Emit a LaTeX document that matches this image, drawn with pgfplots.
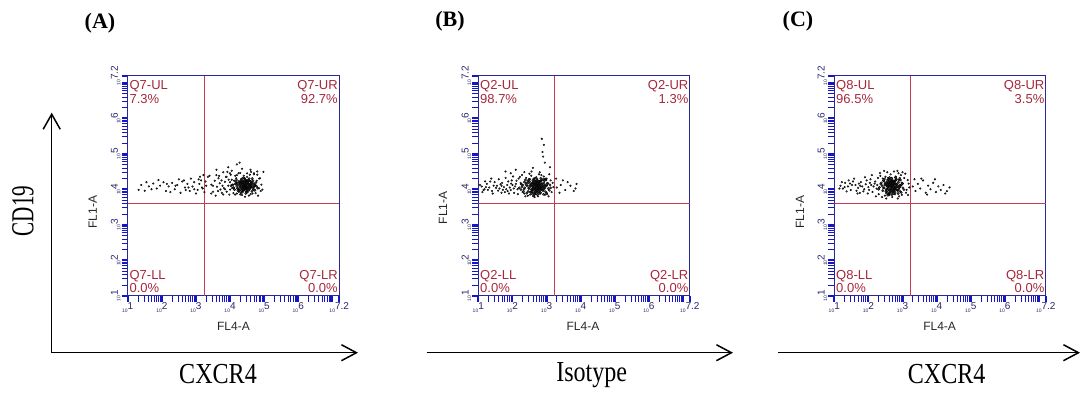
\documentclass[border=0pt]{standalone}
\usepackage{pgfplots}
\pgfplotsset{compat=1.18}
\usetikzlibrary{arrows.meta}
\usepackage{fontspec}
\setmainfont{Liberation Serif}
\setsansfont{Liberation Sans}
\definecolor{framecol}{RGB}{40,40,150}
\definecolor{tickcol}{RGB}{20,20,200}
\definecolor{labcol}{RGB}{40,40,110}
\definecolor{qcol}{RGB}{165,40,60}
\definecolor{qline}{RGB}{195,60,80}
\newcommand{\tl}[1]{\sffamily{\fontsize{5}{5}\selectfont 10}\raisebox{2.5pt}{\fontsize{10}{10}\selectfont #1}}
\tikzset{
  qlab/.style={text=qcol, font=\sffamily\fontsize{13}{13.6}\selectfont, inner sep=0pt},
  fl/.style={font=\sffamily\fontsize{12}{12}\selectfont, text=black!85},
}
\pgfplotsset{fcs/.style={
  scale only axis, width=211.5pt, height=220pt,
  xmin=1, xmax=7.2, ymin=1, ymax=7.2,
  clip mode=individual,
  axis line style={draw=framecol, line width=0.9pt},
  tick align=outside, xtick pos=bottom, ytick pos=left,
  xtick={1,2,3,4,5,6,7,7.2}, ytick={1,2,3,4,5,6,7,7.2},
  xticklabels={\tl{1},\tl{2},\tl{3},\tl{4},\tl{5},\tl{6},{},\tl{7.2}},
  yticklabels={\tl{1},\tl{2},\tl{3},\tl{4},\tl{5},\tl{6},{},\tl{7.2}},
  minor xtick={1.301,1.477,1.602,1.699,1.778,1.845,1.903,1.954,2.301,2.477,2.602,2.699,2.778,2.845,2.903,2.954,3.301,3.477,3.602,3.699,3.778,3.845,3.903,3.954,4.301,4.477,4.602,4.699,4.778,4.845,4.903,4.954,5.301,5.477,5.602,5.699,5.778,5.845,5.903,5.954,6.301,6.477,6.602,6.699,6.778,6.845,6.903,6.954},
  minor ytick={1.301,1.477,1.602,1.699,1.778,1.845,1.903,1.954,2.301,2.477,2.602,2.699,2.778,2.845,2.903,2.954,3.301,3.477,3.602,3.699,3.778,3.845,3.903,3.954,4.301,4.477,4.602,4.699,4.778,4.845,4.903,4.954,5.301,5.477,5.602,5.699,5.778,5.845,5.903,5.954,6.301,6.477,6.602,6.699,6.778,6.845,6.903,6.954},
  major tick length=6pt, minor tick length=6pt,
  major tick style={draw=tickcol, line width=2pt},
  minor tick style={draw=tickcol, line width=0.7pt},
  xticklabel style={anchor=north, text=labcol, inner sep=1pt},
  yticklabel style={rotate=90, anchor=south, text=labcol, inner sep=1pt},
  sparse/.style={only marks, mark=*, mark size=0.85pt, mark options={draw=none, fill=black!50}},
  core/.style={only marks, mark=*, mark size=1.15pt, mark options={draw=none, fill=black!85, fill opacity=0.75}},
  gate/.style={draw=qline, line width=0.9pt, no marks},
}}
\begin{document}
\begin{tikzpicture}[x=1pt, y=-1pt]
\useasboundingbox (0,0) rectangle (1081,394);
% ---------- Panel A ----------
\begin{axis}[fcs, at={(127.7pt,-295.7pt)}, anchor=south west]
\addplot[gate] coordinates {(3.24,1) (3.24,7.2)};
\addplot[gate] coordinates {(1,3.61) (7.2,3.61)};
\addplot[sparse] coordinates {
(3.95,4.10) (4.05,4.27) (3.82,4.03) (3.70,4.17) (4.10,3.89) (3.88,4.35) (4.00,3.99) (3.76,3.90) (4.15,4.38) (3.62,4.07)
(4.78,4.24) (4.85,4.03) (4.80,4.41) (4.92,4.13) (4.75,3.89) (4.88,4.31) (4.98,4.49) (4.70,4.45) (4.95,3.99) (4.82,3.82)
(4.58,4.41) (4.40,4.38) (4.25,4.45) (4.62,4.49) (4.50,4.35) (4.30,3.85) (4.55,3.82) (4.20,3.88) (4.66,3.88) (4.44,3.79)
(3.55,4.24) (3.50,3.93) (3.45,4.13) (3.40,4.38) (3.58,3.82) (3.66,4.31) (3.92,4.49) (4.08,4.13) (3.98,3.85) (3.85,4.21)
(4.12,4.24) (3.78,4.10) (4.02,4.41) (3.72,3.99) (4.18,4.31) (3.90,3.93) (4.06,4.03) (3.68,4.38) (3.80,3.85) (3.96,4.27)
(4.00,4.20) (4.10,4.05) (4.20,4.40) (4.35,3.84) (4.60,3.86) (4.75,4.10) (4.85,4.30) (4.90,3.95) (3.85,4.00) (3.75,4.25)
(3.65,3.95) (3.90,4.35) (4.15,3.85) (4.70,4.42) (4.50,4.45) (4.30,4.46) (4.00,4.45) (3.60,4.40) (3.50,4.10) (3.45,3.88)
(3.30,4.10) (3.20,4.02) (3.15,4.25) (3.25,3.92) (3.10,4.15) (3.05,3.98) (2.95,4.20) (2.90,4.08) (2.82,3.95) (2.75,4.15)
(2.68,4.05) (2.60,4.22) (2.55,3.90) (2.45,4.12) (2.38,4.00) (2.30,4.18) (2.20,4.08) (2.12,3.95) (2.05,4.20) (1.95,4.10)
(1.85,4.02) (1.75,4.16) (1.62,4.08) (1.50,3.96) (1.40,4.12) (1.32,3.98) (2.50,4.28) (2.85,4.30) (3.35,4.35) (3.00,3.88)
(2.25,3.92) (1.90,4.26) (3.18,4.05) (2.70,3.98) (3.28,4.22) (3.22,4.40) (3.12,4.35)
(2.95,4.00) (2.65,4.25) (2.40,4.10) (2.15,4.15) (1.70,4.00) (1.55,4.20) (3.08,4.28) (2.78,4.05)
(3.60,4.55) (3.95,4.62) (4.20,4.70) (4.05,4.52) (4.35,4.58) (4.60,4.55) (4.80,4.50) (3.80,4.48) (4.28,4.75)
};
\addplot[core] coordinates {
(4.42,4.08) (4.37,4.13) (4.49,4.03) (4.54,4.15) (4.30,3.99) (4.25,4.12) (4.60,4.06) (4.39,4.21) (4.47,3.94) (4.34,4.04)
(4.65,4.17) (4.20,4.08) (4.45,4.26) (4.55,3.97) (4.28,4.19) (4.51,4.10) (4.38,3.95) (4.69,4.04) (4.15,4.15) (4.59,4.22)
(4.33,4.28) (4.43,4.01) (4.63,4.12) (4.23,3.97) (4.50,4.19) (4.41,4.15) (4.32,4.10) (4.73,4.13) (4.46,3.88) (4.56,4.30)
(4.36,3.92) (4.26,4.22) (4.52,4.04) (4.68,3.99) (4.11,4.04) (4.45,4.13) (4.39,4.04) (4.62,4.17) (4.29,4.06) (4.49,4.24)
(4.78,4.08) (4.17,4.21) (4.34,4.17) (4.58,4.01) (4.42,4.31) (4.24,4.01) (4.67,4.24) (4.51,3.92) (4.38,4.24) (4.47,4.08)
(4.07,4.12) (4.76,4.19) (4.30,4.15) (4.55,4.12) (4.41,3.99) (4.64,3.94) (4.21,4.17) (4.45,4.21) (4.36,4.01) (4.59,4.15)
(4.13,3.99) (4.71,4.10) (4.50,3.99) (4.33,4.22) (4.43,4.10) (4.54,4.26) (4.26,3.94) (4.62,4.06) (4.39,4.10) (4.47,4.15)
(4.81,4.03) (4.03,4.10) (4.37,4.31) (4.65,4.30) (4.32,3.90) (4.52,4.21) (4.46,4.03) (4.19,4.26) (4.73,3.97) (4.41,4.19)
(4.40,4.10) (4.48,4.08) (4.44,4.02) (4.36,4.14) (4.52,4.18) (4.30,4.08) (4.58,4.04) (4.46,4.24) (4.34,3.96) (4.62,4.12)
(4.42,4.16) (4.50,4.00) (4.38,4.06) (4.56,4.10) (4.28,4.18) (4.44,4.28) (4.66,4.06) (4.22,4.02) (4.54,4.26) (4.40,3.98)
(4.70,4.16) (4.18,4.14) (4.48,3.92) (4.60,4.22) (4.32,4.24) (4.74,4.10) (4.26,3.94) (4.52,4.06) (4.36,4.20) (4.46,4.14)
};
\node[qlab, anchor=north west, align=left] at (axis description cs:0.008,0.979) {Q7-UL\\7.3\%};
\node[qlab, anchor=north east, align=right] at (axis description cs:0.994,0.979) {Q7-UR\\92.7\%};
\node[qlab, anchor=south west, align=left] at (axis description cs:0.008,0.011) {Q7-LL\\0.0\%};
\node[qlab, anchor=south east, align=right] at (axis description cs:0.994,0.011) {Q7-LR\\0.0\%};
\node[fl] at (axis description cs:0.5,-0.141) {FL4-A};
\node[fl, rotate=90] at (axis description cs:-0.165,0.38) {FL1-A};
\end{axis}
% ---------- Panel B ----------
\begin{axis}[fcs, at={(478.3pt,-295.7pt)}, anchor=south west]
\addplot[gate] coordinates {(3.24,1) (3.24,7.2)};
\addplot[gate] coordinates {(1,3.61) (7.2,3.61)};
\addplot[sparse] coordinates {
(1.10,4.08) (1.18,4.00) (1.25,4.15) (1.32,4.05) (1.40,3.95) (1.48,4.20) (1.55,4.10) (1.62,4.02) (1.70,4.18) (1.78,3.92)
(1.85,4.12) (1.92,4.05) (1.98,4.25) (2.05,3.90) (2.10,4.15) (2.15,4.00) (2.18,4.30) (2.08,4.08) (1.95,3.98) (1.88,4.22)
(1.75,4.06) (1.65,4.14) (1.58,3.96) (1.45,4.10) (1.35,4.22) (1.22,4.06) (1.15,3.98) (2.00,4.12) (1.82,4.00) (1.68,3.90)
(2.22,4.35) (2.40,4.32) (2.55,4.38) (2.70,4.34) (2.85,4.40) (2.62,4.30) (2.48,4.28) (3.00,4.30) (3.12,4.25) (2.92,4.36)
(2.35,3.88) (2.52,3.85) (2.68,3.86) (2.82,3.88) (3.02,3.86) (3.15,3.92) (2.95,3.84) (2.45,3.82) (2.75,3.80) (3.18,4.18)
(1.05,4.12) (1.12,3.92) (1.20,4.22) (1.28,3.98) (1.38,4.30) (1.42,3.88) (1.52,4.04) (1.60,4.28) (1.68,4.10) (1.72,3.98)
(1.80,4.32) (1.90,3.88) (1.96,4.16) (2.04,4.02) (2.12,4.24) (2.16,3.86) (2.24,4.18) (2.30,3.92) (2.02,4.36) (1.86,3.95)
(2.28,4.40) (2.50,4.44) (2.78,4.42) (2.65,3.78) (2.38,3.80) (3.06,3.80) (3.20,4.06) (3.08,4.42) (2.56,4.50) (2.80,4.48)
(1.80,4.50) (2.10,4.55) (1.95,4.45) (2.35,4.48) (2.90,4.92) (2.88,5.05) (2.92,5.25) (2.86,5.42) (2.95,4.75) (3.10,4.62) (2.60,4.60)
(3.30,4.05) (3.42,4.12) (3.55,3.98) (3.70,4.10) (3.85,4.02) (3.38,3.90) (3.62,4.20) (3.48,4.25) (3.80,3.95) (3.28,4.30) (3.88,4.15)
};
\addplot[core] coordinates {
(2.72,4.07) (2.65,4.12) (2.80,4.02) (2.58,3.99) (2.88,4.15) (2.70,4.18) (2.76,3.94) (2.62,4.05) (2.84,4.09) (2.68,3.97)
(2.95,4.04) (2.52,4.10) (2.74,4.25) (2.82,3.91) (2.60,4.20) (2.78,4.12) (2.66,3.89) (2.92,4.18) (2.48,4.02) (2.86,4.26)
(2.63,4.26) (2.71,4.01) (2.90,3.96) (2.55,3.93) (2.79,4.21) (2.69,4.12) (2.61,4.15) (3.00,4.10) (2.73,3.85) (2.83,4.31)
(2.64,3.85) (2.57,4.17) (2.81,4.05) (2.97,3.93) (2.44,4.09) (2.75,4.15) (2.67,4.05) (2.89,4.10) (2.59,4.07) (2.77,4.20)
(3.05,4.02) (2.50,4.21) (2.63,4.18) (2.85,3.99) (2.72,4.29) (2.56,3.99) (2.94,4.25) (2.78,3.88) (2.66,4.23) (2.74,4.07)
(2.40,4.13) (3.02,4.17) (2.62,4.10) (2.80,4.13) (2.69,3.94) (2.91,3.86) (2.53,4.15) (2.73,4.21) (2.65,3.97) (2.87,4.05)
(2.46,3.94) (2.98,4.09) (2.79,3.96) (2.60,4.25) (2.71,4.09) (2.84,4.23) (2.57,3.88) (2.93,4.01) (2.68,4.15) (2.76,4.12)
(3.08,3.97) (2.36,4.04) (2.66,4.31) (2.96,4.29) (2.61,3.81) (2.82,4.18) (2.75,4.01) (2.51,4.28) (3.00,3.89) (2.70,4.23)
(2.30,4.12) (2.25,3.99) (2.35,4.20) (2.42,3.89) (2.28,4.07) (2.38,4.26) (2.32,3.94) (2.45,4.17) (2.20,4.04) (3.10,4.12)
(2.70,4.10) (2.78,4.06) (2.62,4.02) (2.86,4.14) (2.55,4.12) (2.92,4.06) (2.68,4.20) (2.75,3.98) (2.82,4.24) (2.58,3.94)
(2.96,4.12) (2.50,4.04) (2.66,4.14) (2.88,3.98) (2.74,4.16) (2.40,4.18) (3.04,4.16) (2.34,4.00) (2.64,3.90) (2.80,4.00)
(2.46,4.24) (2.98,4.26) (2.72,3.92) (2.60,4.08) (2.84,4.04) (2.26,4.14) (3.12,4.04) (2.52,3.92) (2.90,4.28) (2.70,4.04)
};
\node[qlab, anchor=north west, align=left] at (axis description cs:0.008,0.979) {Q2-UL\\98.7\%};
\node[qlab, anchor=north east, align=right] at (axis description cs:0.994,0.979) {Q2-UR\\1.3\%};
\node[qlab, anchor=south west, align=left] at (axis description cs:0.008,0.011) {Q2-LL\\0.0\%};
\node[qlab, anchor=south east, align=right] at (axis description cs:0.994,0.011) {Q2-LR\\0.0\%};
\node[fl] at (axis description cs:0.495,-0.141) {FL4-A};
\node[fl, rotate=90] at (axis description cs:-0.167,0.40) {FL1-A};
\end{axis}
% ---------- Panel C ----------
\begin{axis}[fcs, at={(834.3pt,-295.7pt)}, anchor=south west]
\addplot[gate] coordinates {(3.24,1) (3.24,7.2)};
\addplot[gate] coordinates {(1,3.61) (7.2,3.61)};
\addplot[sparse] coordinates {
(1.18,4.10) (1.25,4.02) (1.32,4.18) (1.40,4.08) (1.48,3.98) (1.55,4.22) (1.62,4.12) (1.70,4.04) (1.78,4.20) (1.85,3.94)
(1.92,4.14) (2.00,4.06) (2.06,4.28) (2.12,3.92) (2.18,4.16) (2.24,4.02) (2.28,4.32) (2.15,4.08) (2.02,3.98) (1.95,4.25)
(1.82,4.08) (1.72,4.16) (1.65,3.96) (1.52,4.12) (1.42,4.25) (1.30,4.06) (2.08,4.12) (1.88,4.00) (1.75,3.90) (2.20,4.22)
(2.35,4.38) (2.50,4.35) (2.65,4.42) (2.80,4.36) (2.95,4.40) (2.58,4.32) (2.42,4.30) (3.05,4.32) (3.15,4.26) (2.88,4.45)
(2.30,3.86) (2.48,3.82) (2.62,3.84) (2.78,3.86) (2.98,3.84) (3.10,3.90) (2.90,3.80) (2.40,3.78) (2.70,3.78) (3.18,4.16)
(2.75,4.50) (2.55,4.48) (3.00,4.48) (3.20,4.05) (3.12,3.98)
(1.15,4.02) (1.22,4.20) (1.36,3.94) (1.46,4.16) (1.58,4.30) (1.68,3.88) (1.76,4.10) (1.90,4.34) (1.98,3.88) (2.10,4.40)
(2.22,3.80) (2.26,4.12) (2.34,4.46) (2.46,4.52) (2.85,4.52) (3.08,4.44) (3.16,3.84) (2.52,3.74) (2.86,3.74) (2.04,4.18)
(3.30,4.08) (3.38,3.95) (3.45,4.15) (3.52,4.02) (3.60,4.25) (3.68,3.90) (3.75,4.10) (3.82,4.00) (3.90,4.18) (3.98,3.92)
(4.05,4.08) (4.12,3.98) (4.20,4.12) (4.30,3.95) (4.38,4.05) (3.55,4.30) (3.95,4.28) (4.25,3.88) (3.35,4.28) (3.72,3.85)
};
\addplot[core] coordinates {
(2.68,4.07) (2.61,4.13) (2.76,4.02) (2.54,4.01) (2.84,4.15) (2.66,4.20) (2.72,3.94) (2.58,4.07) (2.80,4.10) (2.64,3.97)
(2.91,4.05) (2.48,4.12) (2.70,4.26) (2.78,3.91) (2.56,4.21) (2.74,4.13) (2.62,3.89) (2.88,4.20) (2.44,4.04) (2.82,4.28)
(2.59,4.28) (2.67,4.01) (2.86,3.96) (2.51,3.94) (2.75,4.23) (2.65,4.12) (2.57,4.17) (2.96,4.12) (2.69,3.85) (2.79,4.33)
(2.60,3.86) (2.53,4.18) (2.77,4.05) (2.93,3.94) (2.40,4.10) (2.71,4.17) (2.63,4.05) (2.85,4.10) (2.55,4.09) (2.73,4.21)
(3.01,4.04) (2.46,4.23) (2.59,4.20) (2.81,3.99) (2.68,4.31) (2.52,3.99) (2.90,4.26) (2.74,3.88) (2.62,4.25) (2.70,4.09)
(2.36,4.15) (2.98,4.18) (2.58,4.12) (2.76,4.15) (2.65,3.94) (2.87,3.88) (2.49,4.17) (2.69,4.23) (2.61,3.97) (2.83,4.07)
(2.42,3.96) (2.94,4.10) (2.75,3.96) (2.56,4.26) (2.67,4.10) (2.80,4.25) (2.53,3.89) (2.89,4.01) (2.64,4.15) (2.72,4.12)
(3.04,3.99) (2.32,4.05) (2.62,4.33) (2.92,4.31) (2.57,3.83) (2.78,4.18) (2.71,4.02) (2.47,4.29) (2.96,3.91) (2.66,4.25)
(2.66,4.10) (2.74,4.06) (2.58,4.02) (2.82,4.14) (2.51,4.12) (2.88,4.06) (2.64,4.20) (2.71,3.98) (2.78,4.24) (2.54,3.94)
(2.92,4.12) (2.46,4.04) (2.62,4.14) (2.84,3.98) (2.70,4.16) (2.38,4.18) (3.00,4.16) (2.30,4.00) (2.60,3.90) (2.76,4.00)
(2.44,4.24) (2.94,4.26) (2.68,3.92) (2.56,4.08) (2.80,4.04) (2.72,4.12)
};
\node[qlab, anchor=north west, align=left] at (axis description cs:0.008,0.979) {Q8-UL\\96.5\%};
\node[qlab, anchor=north east, align=right] at (axis description cs:0.994,0.979) {Q8-UR\\3.5\%};
\node[qlab, anchor=south west, align=left] at (axis description cs:0.008,0.011) {Q8-LL\\0.0\%};
\node[qlab, anchor=south east, align=right] at (axis description cs:0.994,0.011) {Q8-LR\\0.0\%};
\node[fl] at (axis description cs:0.498,-0.141) {FL4-A};
\node[fl, rotate=90] at (axis description cs:-0.162,0.38) {FL1-A};
\end{axis}
% ---------- outer annotations ----------
\node[font=\bfseries\fontsize{22}{22}\selectfont, anchor=base] at (100,28) {(A)};
\node[font=\bfseries\fontsize{22}{22}\selectfont, anchor=base] at (450,26) {(B)};
\node[font=\bfseries\fontsize{22}{22}\selectfont, anchor=base] at (798,26) {(C)};
\node[rotate=90, font=\fontsize{32}{32}\selectfont] at (23,211) {\scalebox{0.66}[1]{CD19}};
\draw[line width=1.5pt, line join=miter, {Straight Barb[length=15pt,width=17pt]}-{Straight Barb[length=15pt,width=16pt]}]
  (51.7,112.7) -- (51.7,352.7) -- (358,352.7);
\draw[line width=1.5pt, -{Straight Barb[length=15pt,width=16pt]}] (426.7,352.7) -- (733,352.7);
\draw[line width=1.5pt, -{Straight Barb[length=15pt,width=16pt]}] (778,352.7) -- (1080,352.7);
\node[font=\fontsize{29}{29}\selectfont, anchor=base] at (218,383) {\scalebox{0.83}[1]{CXCR4}};
\node[font=\fontsize{29}{29}\selectfont, anchor=base] at (591.7,381) {\scalebox{0.83}[1]{Isotype}};
\node[font=\fontsize{29}{29}\selectfont, anchor=base] at (946.7,383) {\scalebox{0.83}[1]{CXCR4}};
\end{tikzpicture}
\end{document}
